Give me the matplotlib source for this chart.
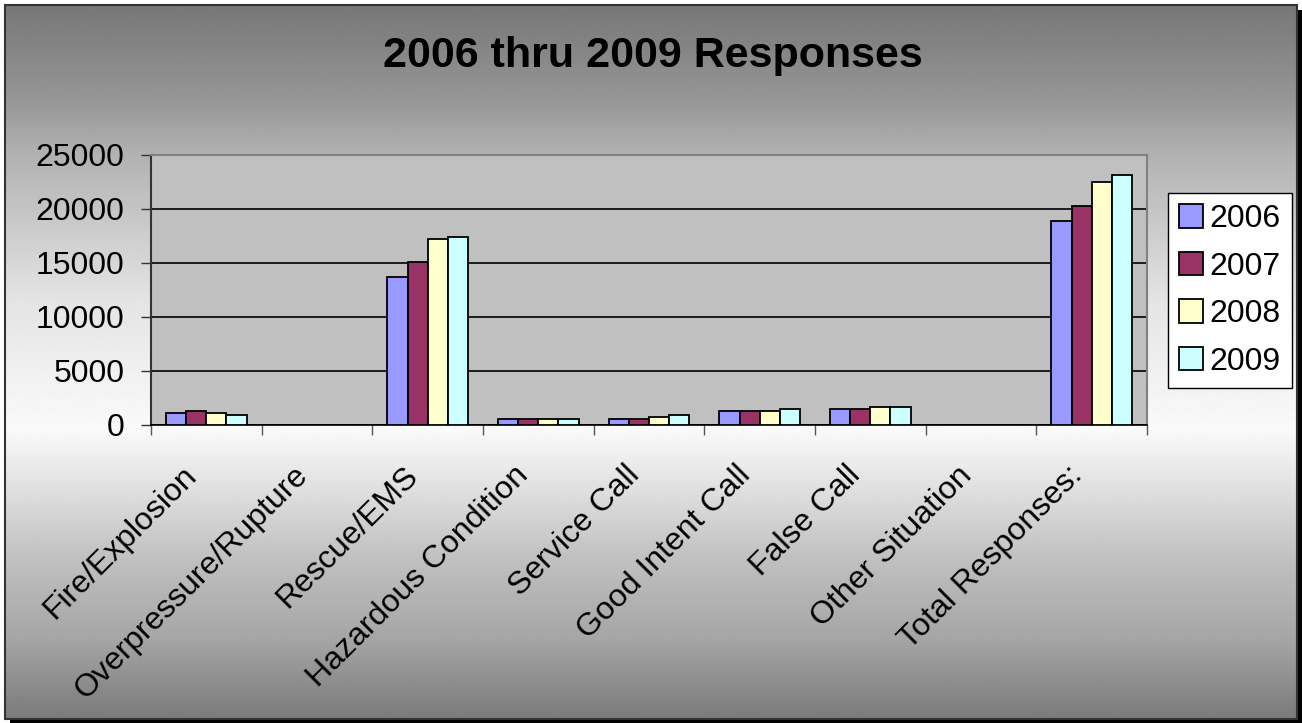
import numpy as np
import matplotlib
matplotlib.use("Agg")
import matplotlib.pyplot as plt
from matplotlib.patches import Rectangle
from matplotlib.transforms import ScaledTranslation

plt.rcParams['font.family'] = ['Liberation Sans', 'DejaVu Sans']

categories = ["Fire/Explosion", "Overpressure/Rupture", "Rescue/EMS", "Hazardous Condition",
              "Service Call", "Good Intent Call", "False Call", "Other Situation", "Total Responses:"]
years = ["2006", "2007", "2008", "2009"]
v2006 = [1140, 0, 13670, 560, 530, 1300, 1480, 0, 18890]
v2007 = [1300, 0, 15120, 560, 530, 1300, 1480, 0, 20310]
v2008 = [1140, 0, 17190, 540, 740, 1300, 1670, 0, 22530]
v2009 = [930, 0, 17380, 540, 950, 1480, 1670, 0, 23150]
series = [v2006, v2007, v2008, v2009]
colors = ["#9999ff", "#993366", "#ffffcc", "#ccffff"]
yticks = [0, 5000, 10000, 15000, 20000, 25000]

W, H = 1302, 723
fig = plt.figure(figsize=(W / 100, H / 100), dpi=100)
fig.patch.set_facecolor("white")

# background gradient
bg = fig.add_axes([0, 0, 1, 1], zorder=0)
bg.set_xlim(0, W)
bg.set_ylim(H, 0)
bg.axis("off")
ys = np.arange(5, 720)
cp_y = [5, 100, 150, 300, 430, 560, 640, 719]
cp_v = [119, 150, 176, 228, 250, 192, 165, 122]
vals = np.interp(ys, cp_y, cp_v) / 255.0
grad = np.repeat(vals[:, None], 2, axis=1)
bg.imshow(grad, cmap="gray", vmin=0, vmax=1, extent=[5, 1297, 719, 5], aspect="auto",
          interpolation="bilinear")
# shadow
bg.add_patch(Rectangle((1297, 10), 5, 713, facecolor="black", edgecolor="none"))
bg.add_patch(Rectangle((10, 719), 1292, 4, facecolor="black", edgecolor="none"))
bg.add_patch(Rectangle((5, 5), 1292, 714, facecolor="none", edgecolor="#333333", linewidth=1.5))

# main axes
left, right, top, bottom = 151, 1147, 155, 425
ax = fig.add_axes([left / W, 1 - bottom / H, (right - left) / W, (bottom - top) / H], zorder=2)
ax.set_facecolor("#c0c0c0")

n = len(categories)
x = np.arange(n)
bw = 1 / 5.5
for i, (vals_s, c, yr) in enumerate(zip(series, colors, years)):
    ax.bar(x + (i - 1.5) * bw, vals_s, width=bw, color=c, edgecolor="black",
           linewidth=1.3, label=yr, zorder=3)

ax.set_xlim(-0.5, n - 0.5)
ax.set_ylim(0, 25000)
ax.set_yticks(yticks)
ax.set_yticklabels([str(t) for t in yticks], fontsize=23)
ax.yaxis.grid(True, color="black", linewidth=1.2, zorder=1)
ax.set_axisbelow(True)
ax.tick_params(axis="y", length=7, width=1, color="#333333", pad=12)

ax.set_xticks(x)
ax.set_xticklabels(categories, fontsize=23, rotation=45, ha="right", va="center",
                   rotation_mode="anchor")
ax.tick_params(axis="x", which="major", length=0, pad=0)
offset = ScaledTranslation(-14 / 100, -46 / 100, fig.dpi_scale_trans)
for lab in ax.get_xticklabels():
    lab.set_transform(lab.get_transform() + offset)
ax.set_xticks(np.arange(-0.5, n, 1), minor=True)
ax.tick_params(axis="x", which="minor", length=7, width=1, color="#555555")

for s in ["top", "right"]:
    ax.spines[s].set_color("#808080")
    ax.spines[s].set_linewidth(1.5)
ax.spines["left"].set_color("#333333")
ax.spines["left"].set_linewidth(1.5)
ax.spines["bottom"].set_color("black")
ax.spines["bottom"].set_linewidth(1.2)

leg = fig.legend(loc="upper left", bbox_to_anchor=(1168 / W, 1 - 193 / H), fontsize=23,
                 frameon=True, fancybox=False, edgecolor="black", framealpha=1,
                 handlelength=0.75, handleheight=0.75, handletextpad=0.2, labelspacing=0.55,
                 borderpad=0.35, borderaxespad=0)
leg.get_frame().set_linewidth(1.0)
leg.set_zorder(5)

fig.text(653 / W, 1 - 56 / H, "2006 thru 2009 Responses", fontsize=31, fontweight="bold",
         ha="center", va="center", zorder=5)

fig.savefig("out.png", dpi=100)
